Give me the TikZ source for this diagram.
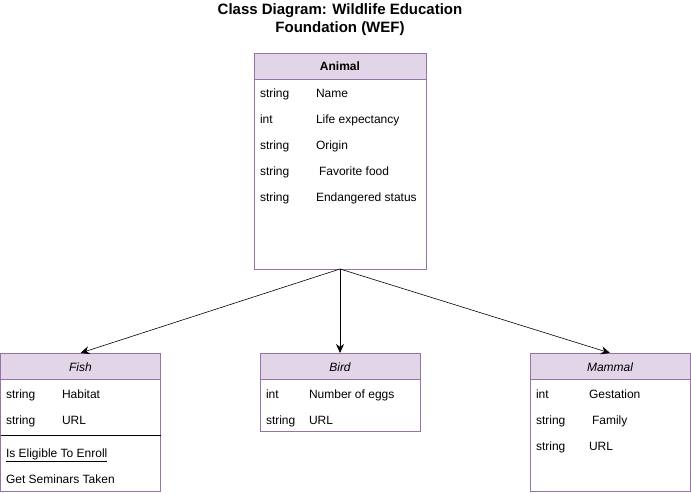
\documentclass[tikz,border=0pt]{standalone}
\usepackage{fontspec}
\setmainfont{Liberation Sans}
\usetikzlibrary{arrows.meta}
\definecolor{umlfill}{HTML}{E1D5E7}
\definecolor{umlline}{HTML}{9673A6}
\begin{document}
\begin{tikzpicture}[x=1pt,y=-1pt,every node/.style={font=\fontsize{12}{14}\selectfont, inner sep=0pt, outer sep=0pt},
  hdr/.style={draw=umlline, fill=umlfill, minimum height=26pt, anchor=north west, text height=11pt, text depth=1pt},
  body/.style={draw=umlline, fill=white, anchor=north west},
  attr/.style={anchor=west, text height=11pt, text depth=1pt},
  inherit/.style={-{Stealth[length=9pt,width=8pt]}, semithick}]

\useasboundingbox (0,0) rectangle (691,494);

\node[font=\bfseries\fontsize{15}{18}\selectfont, align=center] (title) at (340,20) {Class Diagram: Wildlife Education\\Foundation (WEF)};

% Animal
\node[body, minimum width=172pt, minimum height=216pt] (animal) at (254,53) {};
\node[hdr, minimum width=172pt, font=\bfseries\fontsize{12}{14}\selectfont] (animal-hdr) at (254,53) {Animal};
\node[attr] (animal-t1) at (260,93) {string};
\node[attr] (animal-a1) at (316,93) {Name};
\node[attr] (animal-t2) at (260,119) {int};
\node[attr] (animal-a2) at (316,119) {Life expectancy};
\node[attr] (animal-t3) at (260,145) {string};
\node[attr] (animal-a3) at (316,145) {Origin};
\node[attr] (animal-t4) at (260,171) {string};
\node[attr] (animal-a4) at (319,171) {Favorite food};
\node[attr] (animal-t5) at (260,197) {string};
\node[attr] (animal-a5) at (316,197) {Endangered status};

% Fish
\node[body, minimum width=160pt, minimum height=138pt] (fish) at (0.5,353) {};
\node[hdr, minimum width=160pt, font=\itshape\fontsize{12}{14}\selectfont] (fish-hdr) at (0.5,353) {Fish};
\node[attr] (fish-t1) at (6,393) {string};
\node[attr] (fish-a1) at (62,393) {Habitat};
\node[attr] (fish-t2) at (6,419) {string};
\node[attr] (fish-a2) at (62,419) {URL};
\coordinate (fish-sl) at (0.5,435);
\coordinate (fish-sr) at (160.5,435);
\draw[thin] (fish-sl) -- (fish-sr);
\node[attr] (fish-m1) at (6,452) {\underline{Is Eligible To Enroll}};
\node[attr] (fish-m2) at (6,478) {Get Seminars Taken};

% Bird
\node[body, minimum width=160pt, minimum height=78pt] (bird) at (260,353) {};
\node[hdr, minimum width=160pt, font=\itshape\fontsize{12}{14}\selectfont] (bird-hdr) at (260,353) {Bird};
\node[attr] (bird-t1) at (266,393) {int};
\node[attr] (bird-a1) at (309,393) {Number of eggs};
\node[attr] (bird-t2) at (266,419) {string};
\node[attr] (bird-a2) at (309,419) {URL};

% Mammal
\node[body, minimum width=160pt, minimum height=138pt] (mammal) at (530,353) {};
\node[hdr, minimum width=160pt, font=\itshape\fontsize{12}{14}\selectfont] (mammal-hdr) at (530,353) {Mammal};
\node[attr] (mammal-t1) at (536,393) {int};
\node[attr] (mammal-a1) at (589,393) {Gestation};
\node[attr] (mammal-t2) at (536,419) {string};
\node[attr] (mammal-a2) at (592,419) {Family};
\node[attr] (mammal-t3) at (536,445) {string};
\node[attr] (mammal-a3) at (589,445) {URL};

% generalisation
\draw[inherit] (animal.south) -- (fish-hdr.north);
\draw[inherit] (animal.south) -- (bird-hdr.north);
\draw[inherit] (animal.south) -- (mammal-hdr.north);
\end{tikzpicture}
\end{document}
